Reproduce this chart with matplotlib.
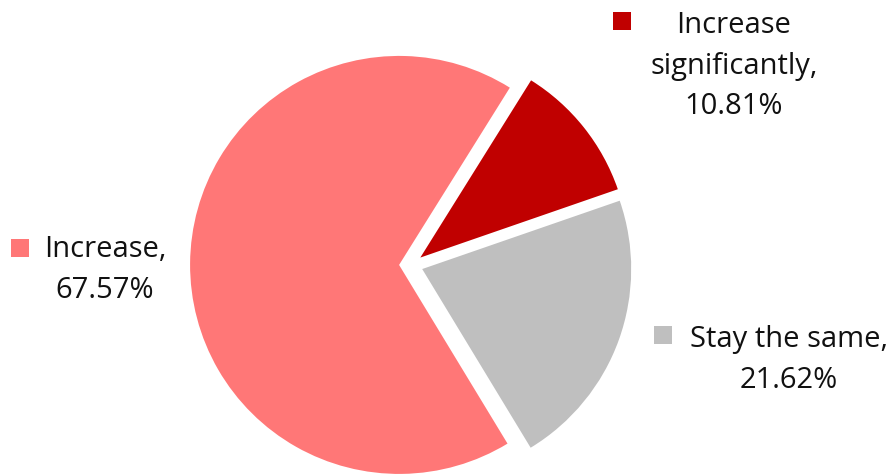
import matplotlib.pyplot as plt

# survey answers, in drawing order (clockwise)
categories = ["Increase significantly", "Stay the same", "Increase"]
shares = [10.81, 21.62, 67.57]
colors = ["#C00000", "#BFBFBF", "#FF7777"]

W, H = 895, 476
fig = plt.figure(figsize=(W / 100, H / 100), dpi=100)
ax = fig.add_axes([0, 0, 1, 1])

# work in pixel units, y measured from the top
cx, cy, r = 411, 265, 209
ax.pie(shares, colors=colors, startangle=58, counterclock=False,
       center=(cx, H - cy), radius=r, explode=[0.057 * r] * 3,
       wedgeprops=dict(linewidth=0))
ax.set_xlim(0, W)
ax.set_ylim(0, H)
ax.set_aspect("equal")
ax.axis("off")

# label blocks: text centre and legend key centre (pixels from top)
label_text = [
    "Increase\nsignificantly,\n{:.2f}%".format(shares[0]),
    "Stay the same,\n{:.2f}%".format(shares[1]),
    "Increase,\n{:.2f}%".format(shares[2]),
]
text_pos = [(734, 66), (789, 360), (105, 270)]
key_pos = [(622, 21), (663, 335), (20, 248)]

for txt, (tx, ty), (kx, ky), col in zip(label_text, text_pos, key_pos, colors):
    ax.text(tx, H - ty, txt, ha="center", va="center", fontsize=21,
            family="Open Sans", linespacing=1.52, color="#111111")
    ax.scatter([kx], [H - ky], marker="s", s=150, color=col, linewidths=0)

fig.savefig("out.png", dpi=100)
